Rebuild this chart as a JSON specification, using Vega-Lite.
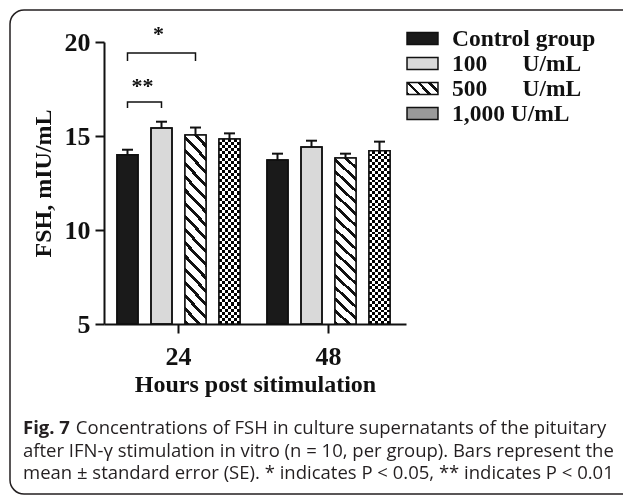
{
  "$schema": "https://vega.github.io/schema/vega-lite/v6.json",
  "width": 640,
  "height": 484,
  "autosize": {"type": "none"},
  "padding": {"left": 10, "top": 10, "right": -27, "bottom": 3},
  "background": "white",
  "config": {
    "view": {"stroke": "#231f20", "strokeWidth": 1.5, "cornerRadius": 14},
    "axis": {"domainColor": "#111", "tickColor": "#111", "labelColor": "#111", "titleColor": "#111", "grid": false}
  },
  "title": {
    "text": "Fig. 7",
    "subtitle": [
      "\u200b\u00a0\u00a0\u00a0\u00a0\u00a0\u00a0\u00a0\u00a0\u00a0\u00a0\u00a0Concentrations of FSH in culture supernatants of the pituitary",
      "after IFN-γ stimulation in vitro (n = 10, per group). Bars represent the",
      "mean ± standard error (SE). * indicates P < 0.05, ** indicates P < 0.01"
    ],
    "orient": "bottom",
    "anchor": "start",
    "frame": "group",
    "offset": -75,
    "dx": 13,
    "font": "Open Sans",
    "fontSize": 18.5,
    "fontWeight": "bold",
    "lineHeight": 18.5,
    "color": "#231f20",
    "subtitleFont": "Open Sans",
    "subtitleFontSize": 18.5,
    "subtitleFontWeight": "normal",
    "subtitleColor": "#231f20",
    "subtitleLineHeight": 22.7,
    "subtitlePadding": -18.5
  },
  "datasets": {
    "bars": [
      {"hour": "24", "group": "Control group", "mean": 14.0, "upper": 14.27},
      {"hour": "24", "group": "100 U/mL", "mean": 15.43, "upper": 15.76},
      {"hour": "24", "group": "500 U/mL", "mean": 15.05, "upper": 15.45},
      {"hour": "24", "group": "1,000 U/mL", "mean": 14.84, "upper": 15.14},
      {"hour": "48", "group": "Control group", "mean": 13.72, "upper": 14.06},
      {"hour": "48", "group": "100 U/mL", "mean": 14.41, "upper": 14.75},
      {"hour": "48", "group": "500 U/mL", "mean": 13.83, "upper": 14.06},
      {"hour": "48", "group": "1,000 U/mL", "mean": 14.22, "upper": 14.7}
    ],
    "brackets": [
      {"b": "A", "hour": "24", "group": "Control group", "y": 16.49, "o": 1},
      {"b": "A", "hour": "24", "group": "Control group", "y": 16.81, "o": 2},
      {"b": "A", "hour": "24", "group": "100 U/mL", "y": 16.81, "o": 3},
      {"b": "A", "hour": "24", "group": "100 U/mL", "y": 16.49, "o": 4},
      {"b": "B", "hour": "24", "group": "Control group", "y": 18.99, "o": 1},
      {"b": "B", "hour": "24", "group": "Control group", "y": 19.41, "o": 2},
      {"b": "B", "hour": "24", "group": "500 U/mL", "y": 19.41, "o": 3},
      {"b": "B", "hour": "24", "group": "500 U/mL", "y": 18.99, "o": 4}
    ],
    "stars": [
      {"hour": "24", "group": "100 U/mL", "y": 20.05, "label": "*"},
      {"hour": "24", "group": "Control group", "y": 17.29, "label": "**"}
    ]
  },
  "encoding": {
    "x": {
      "field": "hour", "type": "nominal", "title": "Hours post sitimulation",
      "scale": {"range": [94, 396], "paddingInner": 0.0933, "paddingOuter": 0.0533, "align": 0.406},
      "axis": {"orient": "bottom", "offset": -170, "labelAngle": 0, "labelFont": "Liberation Serif", "labelFontSize": 26, "labelFontWeight": "bold", "labelPadding": 10, "tickSize": 9, "tickWidth": 2, "domainWidth": 2, "titleFont": "Liberation Serif", "titleFontSize": 24, "titleFontWeight": "bold", "titlePadding": 3}
    },
    "xOffset": {
      "field": "group", "type": "nominal",
      "scale": {"domain": ["Control group", "100 U/mL", "500 U/mL", "1,000 U/mL"], "paddingInner": 0.382, "paddingOuter": 0.191}
    }
  },
  "layer": [
    {
      "data": {"name": "bars"},
      "mark": {"type": "bar", "stroke": "#111", "strokeWidth": 1.5},
      "encoding": {
        "y": {
          "field": "mean", "type": "quantitative", "title": "FSH, mIU/mL",
          "scale": {"domain": [5, 20], "range": [314, 32], "zero": false, "nice": false},
          "axis": {"orient": "left", "offset": -94, "values": [5, 10, 15, 20], "labelFont": "Liberation Serif", "labelFontSize": 26, "labelFontWeight": "bold", "labelPadding": 5, "tickSize": 9, "tickWidth": 2, "domainWidth": 2, "titleFont": "Liberation Serif", "titleFontSize": 24, "titleFontWeight": "bold", "titlePadding": 9}
        },
        "y2": {"datum": 5},
        "fill": {
          "field": "group", "type": "nominal",
          "scale": {
            "domain": ["Control group", "100 U/mL", "500 U/mL", "1,000 U/mL"],
            "range": [
              "#1a1a1a",
              "#d9d9d9",
              {"expr": "{gradient: 'linear', x1: 0, y1: 1, x2: 1.2063, y2: 0.533, stops: [{offset: 0, color: '#111'}, {offset: 0.08, color: '#111'}, {offset: 0.08, color: '#fff'}, {offset: 0.25, color: '#fff'}, {offset: 0.25, color: '#111'}, {offset: 0.33, color: '#111'}, {offset: 0.33, color: '#fff'}, {offset: 0.5, color: '#fff'}, {offset: 0.5, color: '#111'}, {offset: 0.58, color: '#111'}, {offset: 0.58, color: '#fff'}, {offset: 0.75, color: '#fff'}, {offset: 0.75, color: '#111'}, {offset: 0.83, color: '#111'}, {offset: 0.83, color: '#fff'}, {offset: 1, color: '#fff'}]}"},
              "#9a9a9a"
            ]
          },
          "legend": {
            "orient": "none", "legendX": 399.5, "legendY": 15.5, "title": null, "padding": 0,
            "symbolType": "M-1.29,-0.5H1.29V0.5H-1.29Z", "symbolSize": 576, "symbolStrokeColor": "#111", "symbolStrokeWidth": 1.5, "symbolOpacity": 1,
            "labelFont": "Liberation Serif", "labelFontSize": 23.5, "labelFontWeight": "bold", "labelColor": "#111", "labelOffset": 16.5, "rowPadding": 0, "labelLimit": 300,
            "labelExpr": "datum.label == '100 U/mL' ? '100\u00a0\u00a0\u00a0\u00a0\u00a0\u00a0U/mL' : datum.label == '500 U/mL' ? '500\u00a0\u00a0\u00a0\u00a0\u00a0\u00a0U/mL' : datum.label"
          }
        }
      }
    },
    {
      "data": {"name": "bars"},
      "transform": [{"filter": "datum.group == '500 U/mL'"}],
      "mark": {"type": "bar", "strokeWidth": 0, "fill": {"gradient": "linear", "x1": 0, "y1": 1, "x2": 0.1301, "y2": -0.1027, "stops": [
        {"offset": 0, "color": "#111"}, {"offset": 0.02, "color": "#111"}, {"offset": 0.02, "color": "#fff"}, {"offset": 0.0625, "color": "#fff"},
        {"offset": 0.0625, "color": "#111"}, {"offset": 0.0825, "color": "#111"}, {"offset": 0.0825, "color": "#fff"}, {"offset": 0.125, "color": "#fff"},
        {"offset": 0.125, "color": "#111"}, {"offset": 0.145, "color": "#111"}, {"offset": 0.145, "color": "#fff"}, {"offset": 0.1875, "color": "#fff"},
        {"offset": 0.1875, "color": "#111"}, {"offset": 0.2075, "color": "#111"}, {"offset": 0.2075, "color": "#fff"}, {"offset": 0.25, "color": "#fff"},
        {"offset": 0.25, "color": "#111"}, {"offset": 0.27, "color": "#111"}, {"offset": 0.27, "color": "#fff"}, {"offset": 0.3125, "color": "#fff"},
        {"offset": 0.3125, "color": "#111"}, {"offset": 0.3325, "color": "#111"}, {"offset": 0.3325, "color": "#fff"}, {"offset": 0.375, "color": "#fff"},
        {"offset": 0.375, "color": "#111"}, {"offset": 0.395, "color": "#111"}, {"offset": 0.395, "color": "#fff"}, {"offset": 0.4375, "color": "#fff"},
        {"offset": 0.4375, "color": "#111"}, {"offset": 0.4575, "color": "#111"}, {"offset": 0.4575, "color": "#fff"}, {"offset": 0.5, "color": "#fff"},
        {"offset": 0.5, "color": "#111"}, {"offset": 0.52, "color": "#111"}, {"offset": 0.52, "color": "#fff"}, {"offset": 0.5625, "color": "#fff"},
        {"offset": 0.5625, "color": "#111"}, {"offset": 0.5825, "color": "#111"}, {"offset": 0.5825, "color": "#fff"}, {"offset": 0.625, "color": "#fff"},
        {"offset": 0.625, "color": "#111"}, {"offset": 0.645, "color": "#111"}, {"offset": 0.645, "color": "#fff"}, {"offset": 0.6875, "color": "#fff"},
        {"offset": 0.6875, "color": "#111"}, {"offset": 0.7075, "color": "#111"}, {"offset": 0.7075, "color": "#fff"}, {"offset": 0.75, "color": "#fff"},
        {"offset": 0.75, "color": "#111"}, {"offset": 0.77, "color": "#111"}, {"offset": 0.77, "color": "#fff"}, {"offset": 0.8125, "color": "#fff"},
        {"offset": 0.8125, "color": "#111"}, {"offset": 0.8325, "color": "#111"}, {"offset": 0.8325, "color": "#fff"}, {"offset": 0.875, "color": "#fff"},
        {"offset": 0.875, "color": "#111"}, {"offset": 0.895, "color": "#111"}, {"offset": 0.895, "color": "#fff"}, {"offset": 0.9375, "color": "#fff"},
        {"offset": 0.9375, "color": "#111"}, {"offset": 0.9575, "color": "#111"}, {"offset": 0.9575, "color": "#fff"}, {"offset": 1, "color": "#fff"}
      ]}},
      "encoding": {
        "y": {"field": "mean", "type": "quantitative", "title": "FSH, mIU/mL"},
        "y2": {"datum": 5}
      }
    },
    {
      "data": {"name": "bars"},
      "transform": [{"filter": "datum.group == '1,000 U/mL'"}],
      "mark": {"type": "bar", "strokeWidth": 0, "fill": {"gradient": "linear", "x1": 0, "y1": 0, "x2": 1, "y2": 0, "stops": [
        {"offset": 0, "color": "#000"}, {"offset": 0.1429, "color": "#000"}, {"offset": 0.1429, "color": "#fff"}, {"offset": 0.2857, "color": "#fff"},
        {"offset": 0.2857, "color": "#000"}, {"offset": 0.4286, "color": "#000"}, {"offset": 0.4286, "color": "#fff"}, {"offset": 0.5714, "color": "#fff"},
        {"offset": 0.5714, "color": "#000"}, {"offset": 0.7143, "color": "#000"}, {"offset": 0.7143, "color": "#fff"}, {"offset": 0.8571, "color": "#fff"},
        {"offset": 0.8571, "color": "#000"}, {"offset": 1, "color": "#000"}
      ]}},
      "encoding": {
        "y": {"field": "mean", "type": "quantitative", "title": "FSH, mIU/mL"},
        "y2": {"datum": 5}
      }
    },
    {
      "data": {"name": "bars"},
      "transform": [{"filter": "datum.group == '1,000 U/mL'"}],
      "mark": {"type": "bar", "strokeWidth": 0, "blend": "difference", "fill": {"gradient": "linear", "x1": 0, "y1": 0, "x2": 0, "y2": 1, "stops": [
        {"offset": 0, "color": "#fff"}, {"offset": 0.0167, "color": "#fff"}, {"offset": 0.0167, "color": "#000"}, {"offset": 0.0333, "color": "#000"},
        {"offset": 0.0333, "color": "#fff"}, {"offset": 0.05, "color": "#fff"}, {"offset": 0.05, "color": "#000"}, {"offset": 0.0667, "color": "#000"},
        {"offset": 0.0667, "color": "#fff"}, {"offset": 0.0833, "color": "#fff"}, {"offset": 0.0833, "color": "#000"}, {"offset": 0.1, "color": "#000"},
        {"offset": 0.1, "color": "#fff"}, {"offset": 0.1167, "color": "#fff"}, {"offset": 0.1167, "color": "#000"}, {"offset": 0.1333, "color": "#000"},
        {"offset": 0.1333, "color": "#fff"}, {"offset": 0.15, "color": "#fff"}, {"offset": 0.15, "color": "#000"}, {"offset": 0.1667, "color": "#000"},
        {"offset": 0.1667, "color": "#fff"}, {"offset": 0.1833, "color": "#fff"}, {"offset": 0.1833, "color": "#000"}, {"offset": 0.2, "color": "#000"},
        {"offset": 0.2, "color": "#fff"}, {"offset": 0.2167, "color": "#fff"}, {"offset": 0.2167, "color": "#000"}, {"offset": 0.2333, "color": "#000"},
        {"offset": 0.2333, "color": "#fff"}, {"offset": 0.25, "color": "#fff"}, {"offset": 0.25, "color": "#000"}, {"offset": 0.2667, "color": "#000"},
        {"offset": 0.2667, "color": "#fff"}, {"offset": 0.2833, "color": "#fff"}, {"offset": 0.2833, "color": "#000"}, {"offset": 0.3, "color": "#000"},
        {"offset": 0.3, "color": "#fff"}, {"offset": 0.3167, "color": "#fff"}, {"offset": 0.3167, "color": "#000"}, {"offset": 0.3333, "color": "#000"},
        {"offset": 0.3333, "color": "#fff"}, {"offset": 0.35, "color": "#fff"}, {"offset": 0.35, "color": "#000"}, {"offset": 0.3667, "color": "#000"},
        {"offset": 0.3667, "color": "#fff"}, {"offset": 0.3833, "color": "#fff"}, {"offset": 0.3833, "color": "#000"}, {"offset": 0.4, "color": "#000"},
        {"offset": 0.4, "color": "#fff"}, {"offset": 0.4167, "color": "#fff"}, {"offset": 0.4167, "color": "#000"}, {"offset": 0.4333, "color": "#000"},
        {"offset": 0.4333, "color": "#fff"}, {"offset": 0.45, "color": "#fff"}, {"offset": 0.45, "color": "#000"}, {"offset": 0.4667, "color": "#000"},
        {"offset": 0.4667, "color": "#fff"}, {"offset": 0.4833, "color": "#fff"}, {"offset": 0.4833, "color": "#000"}, {"offset": 0.5, "color": "#000"},
        {"offset": 0.5, "color": "#fff"}, {"offset": 0.5167, "color": "#fff"}, {"offset": 0.5167, "color": "#000"}, {"offset": 0.5333, "color": "#000"},
        {"offset": 0.5333, "color": "#fff"}, {"offset": 0.55, "color": "#fff"}, {"offset": 0.55, "color": "#000"}, {"offset": 0.5667, "color": "#000"},
        {"offset": 0.5667, "color": "#fff"}, {"offset": 0.5833, "color": "#fff"}, {"offset": 0.5833, "color": "#000"}, {"offset": 0.6, "color": "#000"},
        {"offset": 0.6, "color": "#fff"}, {"offset": 0.6167, "color": "#fff"}, {"offset": 0.6167, "color": "#000"}, {"offset": 0.6333, "color": "#000"},
        {"offset": 0.6333, "color": "#fff"}, {"offset": 0.65, "color": "#fff"}, {"offset": 0.65, "color": "#000"}, {"offset": 0.6667, "color": "#000"},
        {"offset": 0.6667, "color": "#fff"}, {"offset": 0.6833, "color": "#fff"}, {"offset": 0.6833, "color": "#000"}, {"offset": 0.7, "color": "#000"},
        {"offset": 0.7, "color": "#fff"}, {"offset": 0.7167, "color": "#fff"}, {"offset": 0.7167, "color": "#000"}, {"offset": 0.7333, "color": "#000"},
        {"offset": 0.7333, "color": "#fff"}, {"offset": 0.75, "color": "#fff"}, {"offset": 0.75, "color": "#000"}, {"offset": 0.7667, "color": "#000"},
        {"offset": 0.7667, "color": "#fff"}, {"offset": 0.7833, "color": "#fff"}, {"offset": 0.7833, "color": "#000"}, {"offset": 0.8, "color": "#000"},
        {"offset": 0.8, "color": "#fff"}, {"offset": 0.8167, "color": "#fff"}, {"offset": 0.8167, "color": "#000"}, {"offset": 0.8333, "color": "#000"},
        {"offset": 0.8333, "color": "#fff"}, {"offset": 0.85, "color": "#fff"}, {"offset": 0.85, "color": "#000"}, {"offset": 0.8667, "color": "#000"},
        {"offset": 0.8667, "color": "#fff"}, {"offset": 0.8833, "color": "#fff"}, {"offset": 0.8833, "color": "#000"}, {"offset": 0.9, "color": "#000"},
        {"offset": 0.9, "color": "#fff"}, {"offset": 0.9167, "color": "#fff"}, {"offset": 0.9167, "color": "#000"}, {"offset": 0.9333, "color": "#000"},
        {"offset": 0.9333, "color": "#fff"}, {"offset": 0.95, "color": "#fff"}, {"offset": 0.95, "color": "#000"}, {"offset": 0.9667, "color": "#000"},
        {"offset": 0.9667, "color": "#fff"}, {"offset": 0.9833, "color": "#fff"}, {"offset": 0.9833, "color": "#000"}, {"offset": 1, "color": "#000"}
      ]}},
      "encoding": {
        "y": {"field": "mean", "type": "quantitative", "title": "FSH, mIU/mL"},
        "y2": {"datum": 5}
      }
    },
    {
      "data": {"name": "bars"},
      "mark": {"type": "bar", "fillOpacity": 0, "stroke": "#111", "strokeWidth": 1.5},
      "encoding": {
        "y": {"field": "mean", "type": "quantitative", "title": "FSH, mIU/mL"},
        "y2": {"datum": 5}
      }
    },
    {
      "data": {"name": "bars"},
      "mark": {"type": "rule", "stroke": "#111", "strokeWidth": 2},
      "encoding": {
        "y": {"field": "mean", "type": "quantitative", "title": "FSH, mIU/mL"},
        "y2": {"field": "upper"}
      }
    },
    {
      "data": {"name": "bars"},
      "mark": {"type": "tick", "orient": "horizontal", "size": 11, "thickness": 2, "color": "#111", "opacity": 1},
      "encoding": {
        "y": {"field": "upper", "type": "quantitative", "title": "FSH, mIU/mL"}
      }
    },
    {
      "data": {"name": "brackets"},
      "mark": {"type": "line", "stroke": "#111", "strokeWidth": 1.5},
      "encoding": {
        "y": {"field": "y", "type": "quantitative", "title": "FSH, mIU/mL"},
        "detail": {"field": "b"},
        "order": {"field": "o", "type": "quantitative"}
      }
    },
    {
      "data": {"name": "stars"},
      "transform": [{"filter": "datum.label == '*'"}],
      "mark": {"type": "text", "font": "Liberation Serif", "fontSize": 22, "fontWeight": "bold", "baseline": "alphabetic", "dx": -3, "color": "#111"},
      "encoding": {
        "y": {"field": "y", "type": "quantitative", "title": "FSH, mIU/mL"},
        "text": {"field": "label"}
      }
    },
    {
      "data": {"name": "stars"},
      "transform": [{"filter": "datum.label == '**'"}],
      "mark": {"type": "text", "font": "Liberation Serif", "fontSize": 22, "fontWeight": "bold", "baseline": "alphabetic", "dx": 15, "color": "#111"},
      "encoding": {
        "y": {"field": "y", "type": "quantitative", "title": "FSH, mIU/mL"},
        "text": {"field": "label"}
      }
    }
  ]
}
